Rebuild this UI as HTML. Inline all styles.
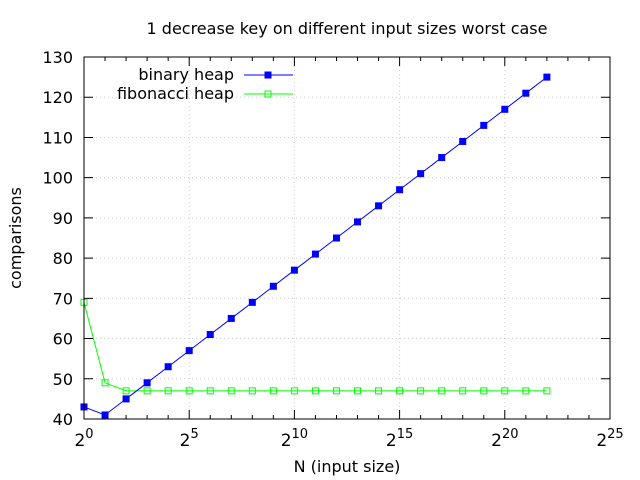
<!DOCTYPE html>
<html><head><meta charset="utf-8"><style>
body{margin:0;background:#fff}
svg{display:block;font-family:"DejaVu Sans","Liberation Sans",sans-serif}
</style></head><body>
<svg id="c" width="640" height="480">
<text x="347" y="34" font-size="16" text-anchor="middle">1 decrease key on different input sizes worst case</text>
<text x="347" y="472" font-size="16" text-anchor="middle">N (input size)</text>
<text x="21" y="238" font-size="16" text-anchor="middle" transform="rotate(-90 21 238)">comparisons</text>
<g id="grid"></g><g id="ticks"></g><g id="series"></g>
<rect x="84" y="57" width="526" height="362" fill="none" stroke="#000" stroke-width="1"/>
<g>
<text x="234" y="80" font-size="16" text-anchor="end">binary heap</text>
<line x1="244" y1="75" x2="293" y2="75" stroke="#0000ff"/>
<rect x="264.5" y="71.5" width="7" height="7" fill="#0000ff"/>
<text x="234" y="99" font-size="16" text-anchor="end">fibonacci heap</text>
<line x1="244" y1="94" x2="293" y2="94" stroke="#00ff00"/>
<rect x="265" y="91" width="6" height="6" fill="none" stroke="#00ff00"/>
</g>
</svg>
<script>
const exponents=[0,1,2,3,4,5,6,7,8,9,10,11,12,13,14,15,16,17,18,19,20,21,22];
const binaryHeap=[43,41,45,49,53,57,61,65,69,73,77,81,85,89,93,97,101,105,109,113,117,121,125];
const fibonacciHeap=[69,49,47,47,47,47,47,47,47,47,47,47,47,47,47,47,47,47,47,47,47,47,47];
const yTicks=[40,50,60,70,80,90,100,110,120,130];
const xMajor=[0,5,10,15,20,25];
const NS="http://www.w3.org/2000/svg";
const X0=84,X1=610,Y0=419,Y1=57;
const xs=e=>X0+(e-0)/(25-0)*(X1-X0);
const ys=v=>Y0-(v-40)/(130-40)*(Y0-Y1);
function mk(tag,attrs,parent){const el=document.createElementNS(NS,tag);for(const k in attrs)el.setAttribute(k,attrs[k]);parent.appendChild(el);return el;}
const grid=document.getElementById('grid'),ticks=document.getElementById('ticks'),ser=document.getElementById('series');
yTicks.forEach(v=>{
  const y=ys(v);
  if(v>40&&v<130){const g=mk('line',{x1:X0,x2:X1,y1:y,y2:y,stroke:'#ccc','stroke-dasharray':'1,3'},grid);
  
  }
  const t=mk('path',{d:`M${X0} ${y}h9M${X1} ${y}h-9`,stroke:'#000'},ticks);
  
  
  const l=mk('text',{x:X0-11,y:y+6,'font-size':16,'text-anchor':'end'},ticks);
  l.textContent=v;
  
  
});
for(let e=0;e<=25;e++){
  const x=xs(e),major=xMajor.includes(e),len=major?9:4;
  const t=mk('path',{d:`M${x} ${Y0}v-${len}M${x} ${Y1}v${len}`,stroke:'#000'},ticks);
  
  
  if(major){
    if(e>0&&e<25){const g=mk('line',{x1:x,x2:x,y1:Y0,y2:Y1,stroke:'#ccc','stroke-dasharray':'1,3'},grid);
    
    }
    const l=mk('text',{x:x,y:446,'font-size':17,'text-anchor':'middle'},ticks);
    l.innerHTML='2<tspan dy="-8" font-size="13">'+e+'</tspan>';
    
    
  }
}
function series(vals,color,filled,name){
  const pts=exponents.map((e,i)=>xs(e)+','+ys(vals[i])).join(' ');
  const pl=mk('polyline',{points:pts,fill:'none',stroke:color,'stroke-width':1},ser);
  
  
  exponents.forEach((e,i)=>{
    const x=xs(e),y=ys(vals[i]);
    const r=filled?mk('rect',{x:x-3.5,y:y-3.5,width:7,height:7,fill:color},ser):mk('rect',{x:x-3,y:y-3,width:6,height:6,fill:'none',stroke:color},ser);
    
    
  });
}
series(fibonacciHeap,'#00ff00',false,'fibonacci-heap');
series(binaryHeap,'#0000ff',true,'binary-heap');
</script>
</body></html>
